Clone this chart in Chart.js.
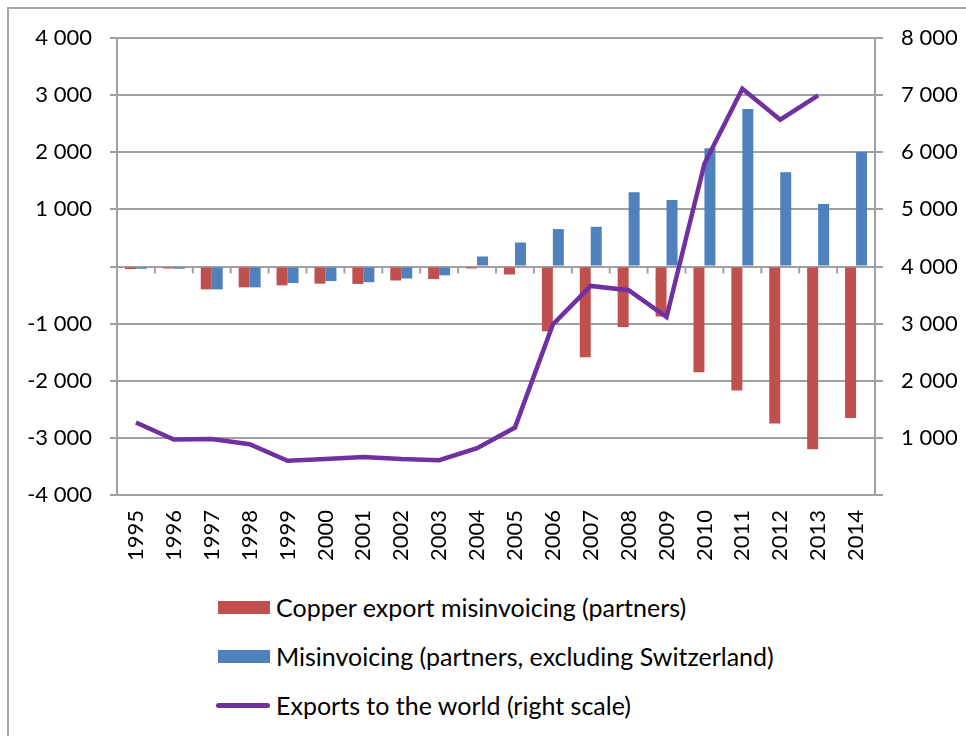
<!DOCTYPE html>
<html>
<head>
<meta charset="utf-8">
<script src="https://cdn.jsdelivr.net/npm/chart.js@4"></script>
<style>
  html, body { margin: 0; padding: 0; background: #fff; }
  #wrap { position: relative; width: 966px; height: 736px; overflow: hidden; }
  #frame { position: absolute; left: 7px; top: 7px; width: 1000px; height: 800px; border-left: 2px solid #a6a6a6; border-top: 2px solid #a6a6a6; }
  #cv { position: absolute; left: 0; top: 0; }
  #legend { position: absolute; left: 216px; top: 588px; font-family: Lato, "Open Sans", sans-serif; font-size: 25px; color: #000; }
  .li { position: relative; height: 49px; line-height: 38px; padding-left: 60px; white-space: nowrap; }
  .sw { position: absolute; left: 2px; top: 13px; width: 52px; height: 13px; }
  .ln { position: absolute; left: 0; top: 17px; width: 54px; height: 5px; border-radius: 3px; }
</style>
</head>
<body>
<div id="wrap">
  <div id="frame"></div>
  <canvas id="cv" width="966" height="580"></canvas>
  <div id="legend"></div>
</div>
<script>
const years = ['1995','1996','1997','1998','1999','2000','2001','2002','2003','2004','2005','2006','2007','2008','2009','2010','2011','2012','2013','2014'];
const copperMisinvoicing = [-45,-35,-400,-365,-330,-300,-305,-245,-220,-35,-140,-1135,-1590,-1060,-875,-1850,-2170,-2750,-3200,-2650];
const misinvoicingExclSwiss = [-40,-40,-400,-365,-290,-255,-275,-210,-155,175,420,655,695,1300,1165,2070,2755,1650,1095,2005];
const exportsWorld = [1270,970,980,890,600,630,665,630,610,820,1180,2985,3660,3585,3115,5800,7110,6570,6995,null];
const leftTicks = [-4000,-3000,-2000,-1000,0,1000,2000,3000,4000];
const rightTicks = [0,1000,2000,3000,4000,5000,6000,7000,8000];
const seriesNames = ['Copper export misinvoicing (partners)','Misinvoicing (partners, excluding Switzerland)','Exports to the world (right scale)'];
const colors = { red: '#C0504D', blue: '#4F81BD', purple: '#7030A0', grid: '#a0a0a0' };

const fmt = v => {
  const s = Math.abs(v).toString().replace(/\B(?=(\d{3})+(?!\d))/g, ' ');
  return (v < 0 ? '-' : '') + s;
};

const FONT = { family: 'Lato, "Open Sans", sans-serif', size: 22 };

// Draw small tick marks along the zero line at category boundaries
const zeroTicks = {
  id: 'zeroTicks',
  afterDatasetsDraw(chart) {
    const x = chart.scales.x, y = chart.scales.y;
    const ctx = chart.ctx;
    const y0 = y.getPixelForValue(0);
    ctx.save();
    ctx.strokeStyle = colors.grid;
    ctx.lineWidth = 2;
    for (let i = 1; i < years.length; i++) {
      const px = (x.getPixelForValue(i - 1) + x.getPixelForValue(i)) / 2;
      ctx.beginPath();
      ctx.moveTo(px, y0);
      ctx.lineTo(px, y0 + 7);
      ctx.stroke();
    }
    ctx.restore();
  }
};

new Chart(document.getElementById('cv'), {
  data: {
    labels: years,
    datasets: [
      { type: 'line', label: seriesNames[2], data: exportsWorld, yAxisID: 'y2', borderColor: colors.purple, borderWidth: 4.5, pointRadius: 0, tension: 0, order: 0, spanGaps: false },
      { type: 'bar', label: seriesNames[0], data: copperMisinvoicing, yAxisID: 'y', backgroundColor: colors.red, categoryPercentage: 0.58, barPercentage: 1, order: 1 },
      { type: 'bar', label: seriesNames[1], data: misinvoicingExclSwiss, yAxisID: 'y', backgroundColor: colors.blue, categoryPercentage: 0.58, barPercentage: 1, order: 1 }
    ]
  },
  options: {
    responsive: false,
    animation: false,
    events: [],
    layout: { padding: { top: 38, left: 0, right: 0, bottom: 0 } },
    plugins: { legend: { display: false }, tooltip: { enabled: false } },
    scales: {
      x: {
        grid: { display: false, drawTicks: false },
        border: { display: false },
        ticks: { color: '#000', font: FONT, minRotation: 90, maxRotation: 90, padding: 15, autoSkip: false },
        afterFit(s) { s.height = 85; }
      },
      y: {
        position: 'left',
        min: -4000, max: 4000,
        afterBuildTicks(s) { s.ticks = leftTicks.map(v => ({ value: v })); },
        grid: { color: colors.grid, lineWidth: 2, tickLength: 7, drawTicks: true },
        border: { display: true, color: colors.grid, width: 2 },
        ticks: { color: '#000', font: FONT, padding: 18, callback: v => v === 0 ? '' : fmt(v) },
        afterFit(s) { s.width = 117; }
      },
      y2: {
        position: 'right',
        min: 0, max: 8000,
        afterBuildTicks(s) { s.ticks = rightTicks.map(v => ({ value: v })); },
        grid: { drawOnChartArea: false, color: colors.grid, lineWidth: 2, tickLength: 8 },
        border: { display: true, color: colors.grid, width: 2 },
        ticks: { color: '#000', font: FONT, padding: 18, callback: v => v === 0 ? '' : fmt(v) },
        afterFit(s) { s.width = 91; }
      }
    }
  },
  plugins: [zeroTicks]
});

// HTML legend (vertical, as in the reference)
const lg = document.getElementById('legend');
[[seriesNames[0], 'sw', colors.red], [seriesNames[1], 'sw', colors.blue], [seriesNames[2], 'ln', colors.purple]].forEach(([t, cls, c]) => {
  const d = document.createElement('div'); d.className = 'li';
  const s = document.createElement('span'); s.className = cls; s.style.background = c;
  d.appendChild(s); d.appendChild(document.createTextNode(t));
  lg.appendChild(d);
});
</script>
</body>
</html>
